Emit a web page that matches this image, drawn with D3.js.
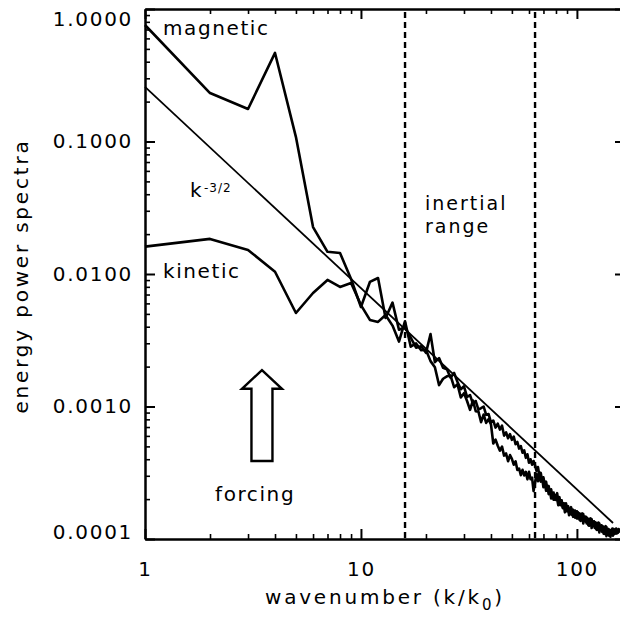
<!DOCTYPE html>
<html><head><meta charset="utf-8">
<script src="https://cdn.jsdelivr.net/npm/d3@7"></script>
<style>body{margin:0;background:#fff} svg text{font-family:"DejaVu Sans",sans-serif;fill:#000}</style>
</head><body>
<svg id="c" width="620" height="619"></svg>
<script>
// ---- data ----
const wavenumber = d3.range(1, 159); // k/k0 = 1..158
const magnetic = [
0.757,0.232,0.176,0.466,0.108,0.0226,0.0147,0.0144,0.00916,0.00564,
0.00871,0.00933,0.00466,6.08e-3,3.80e-3,3.96e-3,3.31e-3,2.78e-3,2.85e-3,2.54e-3,
3.52e-3,2.16e-3,2.32e-3,1.96e-3,1.91e-3,1.65e-3,1.79e-3,1.53e-3,1.35e-3,1.42e-3,
1.18e-3,1.22e-3,1.05e-3,1.10e-3,9.46e-4,9.72e-4,1.00e-3,8.65e-4,8.76e-4,7.59e-4,
7.84e-4,6.93e-4,7.42e-4,6.69e-4,7.17e-4,6.03e-4,6.37e-4,5.76e-4,6.19e-4,5.60e-4,
5.93e-4,5.19e-4,5.40e-4,4.81e-4,5.02e-4,4.48e-4,4.67e-4,4.10e-4,4.36e-4,3.76e-4,
4.00e-4,3.64e-4,3.88e-4,3.59e-4,3.27e-4,3.49e-4,3.02e-4,3.16e-4,2.74e-4,2.92e-4,
2.53e-4,2.71e-4,2.35e-4,2.51e-4,2.21e-4,2.37e-4,2.09e-4,2.24e-4,1.98e-4,2.11e-4,
2.22e-4,1.93e-4,2.07e-4,1.83e-4,1.96e-4,1.74e-4,1.86e-4,1.74e-4,1.86e-4,1.65e-4,
1.77e-4,1.57e-4,1.65e-4,1.74e-4,1.52e-4,1.66e-4,1.50e-4,1.64e-4,1.48e-4,1.62e-4,
1.43e-4,1.57e-4,1.39e-4,1.55e-4,1.45e-4,1.56e-4,1.31e-4,1.44e-4,1.37e-4,1.47e-4,
1.31e-4,1.43e-4,1.27e-4,1.42e-4,1.33e-4,1.43e-4,1.21e-4,1.32e-4,1.26e-4,1.36e-4,
1.21e-4,1.33e-4,1.18e-4,1.32e-4,1.23e-4,1.33e-4,1.12e-4,1.23e-4,1.18e-4,1.27e-4,
1.13e-4,1.24e-4,1.10e-4,1.23e-4,1.16e-4,1.25e-4,1.05e-4,1.16e-4,1.11e-4,1.19e-4,
1.06e-4,1.17e-4,1.04e-4,1.16e-4,1.12e-4,1.20e-4,1.06e-4,1.13e-4,1.09e-4,1.15e-4,
1.12e-4,1.18e-4,1.10e-4,1.16e-4,1.12e-4,1.19e-4,1.14e-4,1.16e-4
];
const kinetic = [
0.0161,0.0184,0.0152,0.0104,0.00508,0.00719,0.00902,0.00798,0.00855,0.00583,
0.00450,0.00435,0.00491,4.08e-3,3.09e-3,4.40e-3,2.83e-3,2.99e-3,2.66e-3,2.68e-3,
2.20e-3,1.98e-3,1.45e-3,1.62e-3,1.69e-3,1.71e-3,1.40e-3,1.47e-3,1.17e-3,1.26e-3,
1.10e-3,9.44e-4,1.11e-3,9.22e-4,9.14e-4,7.62e-4,8.70e-4,7.52e-4,8.03e-4,7.33e-4,
5.26e-4,5.62e-4,5.06e-4,4.64e-4,4.98e-4,4.26e-4,4.42e-4,3.86e-4,4.30e-4,4.03e-4,
3.64e-4,3.86e-4,3.32e-4,3.40e-4,3.03e-4,3.33e-4,3.02e-4,3.21e-4,2.82e-4,3.21e-4,
2.83e-4,2.90e-4,2.30e-4,2.67e-4,3.11e-4,2.73e-4,3.18e-4,2.71e-4,2.89e-4,2.46e-4,
2.67e-4,2.31e-4,2.52e-4,2.18e-4,2.33e-4,2.02e-4,2.20e-4,1.98e-4,2.15e-4,1.97e-4,
2.00e-4,1.80e-4,1.96e-4,1.80e-4,1.93e-4,1.71e-4,1.80e-4,1.59e-4,1.77e-4,1.62e-4,
1.74e-4,1.51e-4,1.65e-4,1.54e-4,1.66e-4,1.47e-4,1.58e-4,1.45e-4,1.58e-4,1.43e-4,
1.59e-4,1.46e-4,1.52e-4,1.37e-4,1.53e-4,1.38e-4,1.54e-4,1.39e-4,1.47e-4,1.35e-4,
1.45e-4,1.34e-4,1.39e-4,1.26e-4,1.40e-4,1.27e-4,1.41e-4,1.28e-4,1.35e-4,1.25e-4,
1.34e-4,1.24e-4,1.29e-4,1.17e-4,1.30e-4,1.18e-4,1.31e-4,1.19e-4,1.26e-4,1.16e-4,
1.25e-4,1.16e-4,1.20e-4,1.09e-4,1.22e-4,1.10e-4,1.23e-4,1.12e-4,1.19e-4,1.09e-4,
1.17e-4,1.08e-4,1.15e-4,1.10e-4,1.18e-4,1.09e-4,1.14e-4,1.19e-4,1.11e-4,1.16e-4,
1.10e-4,1.20e-4,1.13e-4,1.17e-4,1.12e-4,1.18e-4,1.15e-4,1.13e-4
];
const refLineK = [1, 147];          // k^-3/2 reference line
const refLineE = [0.258, 1.32e-4];
const inertialBounds = [16, 64];    // dashed lines
const xMajor = [1, 10, 100];
const xMinor = [2,3,4,5,6,7,8,9,20,30,40,50,60,70,80,90];
const yMajor = [1e-4, 1e-3, 1e-2, 1e-1, 1];
const yMinor = [2e-4,3e-4,4e-4,5e-4,6e-4,7e-4,8e-4,9e-4,2e-3,3e-3,4e-3,5e-3,6e-3,7e-3,8e-3,9e-3,
  2e-2,3e-2,4e-2,5e-2,6e-2,7e-2,8e-2,9e-2,0.2,0.3,0.4,0.5,0.6,0.7,0.8,0.9];
const arrowK = 3.48, arrowTip = 1.88e-3, arrowHead = 1.36e-3, arrowBase = 3.88e-4;

// ---- chart ----
const svg = d3.select("#c");
const x = d3.scaleLog().domain([1, 167]).range([145, 625]);
const y = d3.scaleLog().domain([1e-4, 1]).range([539, 9]);
const FONT = '"DejaVu Sans", sans-serif';

function styleAxis(g, sw) {
  g.attr("font-family", FONT).attr("font-size", 20);
  g.select(".domain").attr("stroke", "#000").attr("stroke-width", 2.5);
  g.selectAll(".tick line").attr("stroke", "#000").attr("stroke-width", sw);
  g.selectAll(".tick text").attr("fill", "#000").attr("letter-spacing", "1.7px");
}
function noDomain(g) { g.select(".domain").remove(); }

// bottom
svg.append("g").attr("transform", "translate(0,539)")
  .call(d3.axisBottom(x).tickValues(xMinor).tickSize(-5).tickSizeOuter(0).tickFormat(""))
  .call(g => { styleAxis(g, 1.6); noDomain(g); });
svg.append("g").attr("transform", "translate(0,539)")
  .call(d3.axisBottom(x).tickValues(xMajor).tickSize(-10).tickSizeOuter(0).tickPadding(23).tickFormat(d3.format("d")))
  .call(g => styleAxis(g, 2));
// top
svg.append("g").attr("transform", "translate(0,9)")
  .call(d3.axisTop(x).tickValues(xMinor).tickSize(-5).tickSizeOuter(0).tickFormat(""))
  .call(g => { styleAxis(g, 1.6); noDomain(g); });
svg.append("g").attr("transform", "translate(0,9)")
  .call(d3.axisTop(x).tickValues(xMajor).tickSize(-10).tickSizeOuter(0).tickFormat(""))
  .call(g => styleAxis(g, 2));
// left
svg.append("g").attr("transform", "translate(145,0)")
  .call(d3.axisLeft(y).tickValues(yMinor).tickSize(-5).tickSizeOuter(0).tickFormat(""))
  .call(g => { styleAxis(g, 1.6); noDomain(g); });
const leftAx = svg.append("g").attr("transform", "translate(145,0)")
  .call(d3.axisLeft(y).tickValues(yMajor).tickSize(-10).tickSizeOuter(0).tickPadding(12).tickFormat(d3.format(".4f")))
  .call(g => styleAxis(g, 2));
leftAx.selectAll(".tick text").filter(d => d === 1).attr("y", 10);
leftAx.selectAll(".tick text").filter(d => d === 1e-4).attr("y", -7);
// right
svg.append("g").attr("transform", "translate(625,0)")
  .call(d3.axisRight(y).tickValues(yMinor).tickSize(-5).tickSizeOuter(0).tickFormat(""))
  .call(g => { styleAxis(g, 1.6); noDomain(g); });
svg.append("g").attr("transform", "translate(625,0)")
  .call(d3.axisRight(y).tickValues(yMajor).tickSize(-10).tickSizeOuter(0).tickFormat(""))
  .call(g => styleAxis(g, 2));

// dashed inertial range bounds
svg.selectAll("line.bound").data(inertialBounds).join("line")
  .attr("class", "bound")
  .attr("x1", d => x(d)).attr("x2", d => x(d))
  .attr("y1", y(1) + 3).attr("y2", y(1e-4))
  .attr("stroke", "#000").attr("stroke-width", 2.4).attr("stroke-dasharray", "6,4");

// reference line
svg.append("path")
  .datum(refLineK.map((k, i) => [k, refLineE[i]]))
  .attr("d", d3.line().x(d => x(d[0])).y(d => y(d[1])))
  .attr("fill", "none").attr("stroke", "#000").attr("stroke-width", 1.8);

// spectra
const line = d3.line().x(d => x(d[0])).y(d => y(d[1]));
[magnetic, kinetic].forEach(series => {
  svg.append("path")
    .datum(wavenumber.map((k, i) => [k, series[i]]))
    .attr("d", line)
    .attr("fill", "none").attr("stroke", "#000").attr("stroke-width", 2.6)
    .attr("stroke-linejoin", "round");
});

// forcing arrow
const ax = x(arrowK), ty = y(arrowTip), hy = y(arrowHead), by = y(arrowBase);
svg.append("path")
  .attr("d", `M${ax},${ty} L${ax+20},${hy} L${ax+10.5},${hy} L${ax+10.5},${by} L${ax-10.5},${by} L${ax-10.5},${hy} L${ax-20},${hy} Z`)
  .attr("fill", "#fff").attr("stroke", "#000").attr("stroke-width", 2.4).attr("stroke-linejoin", "miter");

// text annotations
function txt(t, px, py, opts = {}) {
  return svg.append("text").attr("x", px).attr("y", py)
    .attr("font-size", opts.size || 20).attr("letter-spacing", opts.ls || "1.6px")
    .attr("text-anchor", opts.anchor || "start").text(t);
}
txt("magnetic", 163, 35);
txt("kinetic", 163, 278);
txt("k", 190, 197);
txt("-3/2", 204, 192, { size: 12, ls: "1px" });
txt("inertial", 425, 210, { size: 19, ls: "2px" });
txt("range", 425, 233, { size: 19, ls: "2px" });
txt("forcing", 215, 501);

// axis titles
const xt = svg.append("text").attr("x", 265).attr("y", 604)
  .attr("font-size", 20).attr("letter-spacing", "2.8px");
xt.append("tspan").text("wavenumber (k/k");
xt.append("tspan").attr("font-size", 15).attr("dy", 6).text("0");
xt.append("tspan").attr("dy", -6).text(")");
svg.append("text").attr("transform", "translate(28,276) rotate(-90)")
  .attr("text-anchor", "middle").attr("font-size", 20).attr("letter-spacing", "2.8px")
  .text("energy power spectra");
</script>
</body></html>
